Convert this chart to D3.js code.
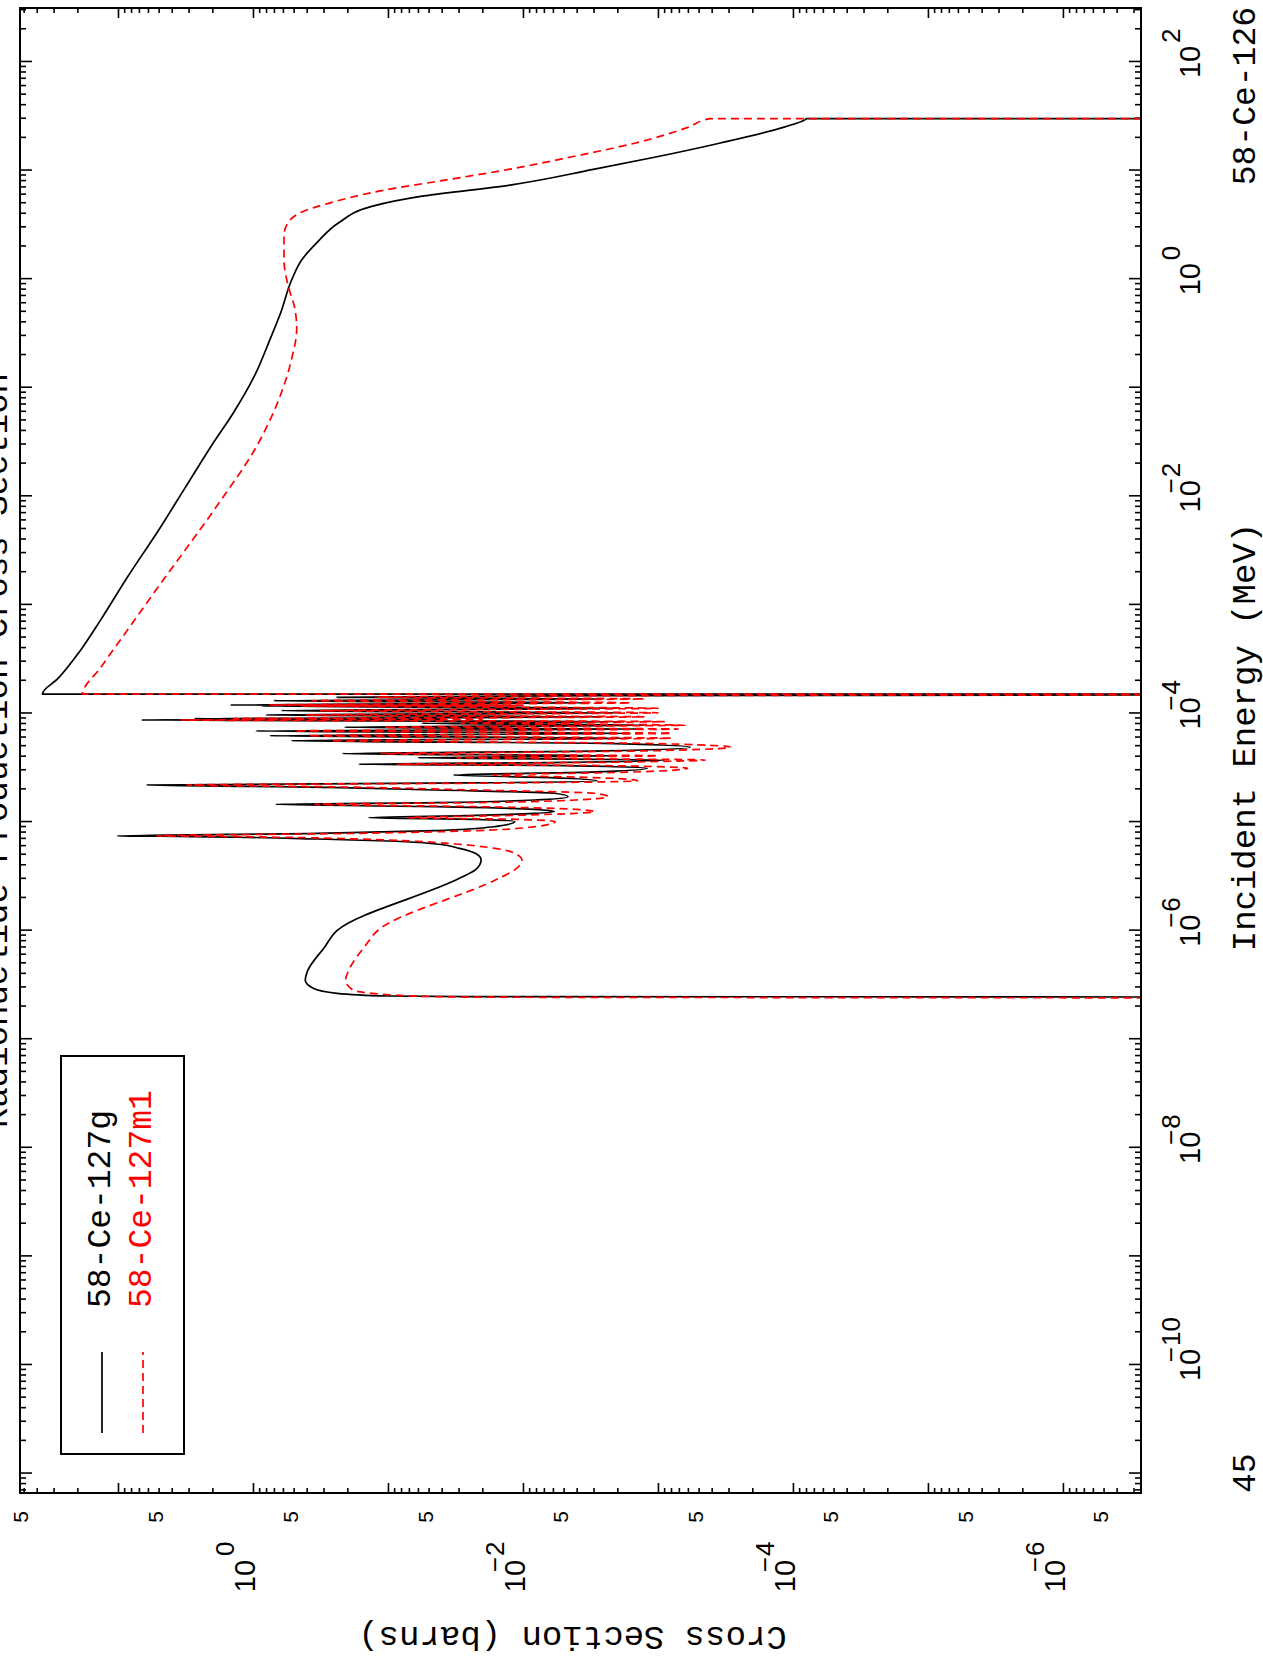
<!DOCTYPE html>
<html><head><meta charset="utf-8">
<script src="https://cdn.jsdelivr.net/npm/d3@7"></script>
<style>body{margin:0;background:#fff}svg{display:block}</style>
</head><body>
<svg id="c" width="1263" height="1662"></svg>
<script>
// ---------------- DATA (log10 E [MeV], log10 sigma [barns]) ----------------
const title = "Radionuclide Production Cross Section";
const xTitle = "Incident Energy (MeV)";
const yTitle = "Cross Section (barns)";
const target = "58-Ce-126";
const cornerNote = "45";
const seriesNames = ["58-Ce-127g", "58-Ce-127m1"];
const seriesColors = ["#000000", "#ff0000"];
const energyDomain = [6.62e-12, 314];
const xsDomain = [53.2, 2.64e-7];
const energyLabelExps = [-10, -8, -6, -4, -2, 0, 2];
const xsLabelExps = [0, -2, -4, -6];
const xsFiveLabels = [5e1, 5e0, 5e-1, 5e-2, 5e-3, 5e-4, 5e-5, 5e-6, 5e-7];

// 58-Ce-127g
const groundLog = [
 [-6.616,-12],[-6.607,-1.6],[-6.602,-1.002],[-6.577,-0.622],[-6.531,-0.446],[-6.455,-0.387],
 [-6.378,-0.402],[-6.148,-0.533],[-6.000,-0.622],[-5.518,-1.529],[-5.441,-1.647],[-5.349,-1.690],
 [-5.288,-1.647],[-5.242,-1.529],[-5.202,-1.353],[-5.177,-1.061],[-5.156,-0.476],[-5.140,0.111],
 [-5.131,0.696],[-5.128,1.004],[-5.104,-0.476],[-5.079,-1.353],[-5.042,-1.793],[-4.996,-1.939],
 [-4.975,-1.645],[-4.960,-0.856],[-4.938,-1.647],[-4.920,-2.085],[-4.904,-2.232],[-4.883,-2.085],
 [-4.858,-1.353],[-4.837,-0.168],[-4.821,-1.353],[-4.797,-2.085],[-4.766,-2.334],[-4.735,-2.232],
 [-4.705,-1.353],[-4.674,-0.182],[-4.659,0.784],
 [-4.640,-1.6],[-4.620,-2.55],[-4.590,-2.2],[-4.567,-1.485],[-4.540,-2.5],[-4.505,-2.92],[-4.480,-2.3],
 [-4.468,-0.783],[-4.450,-2.3],[-4.428,-3.05],[-4.407,-1.222],[-4.390,-2.7],[-4.370,-0.665],
 [-4.345,-2.6],[-4.311,-3.24],[-4.275,-2.6],[-4.251,-0.285],[-4.228,-2.8],[-4.205,-0.124],
 [-4.183,-2.8],[-4.161,-0.021],[-4.144,-2.85],[-4.127,-0.680],[-4.108,-2.9],[-4.090,-1.251],
 [-4.075,-2.75],[-4.060,0.827],[-4.054,-1.4],[-4.048,0.433],[-4.031,-2.6],[-4.014,-0.095],
 [-3.994,-2.7],[-3.974,-0.212],[-3.952,-2.7],[-3.931,-0.065],[-3.927,-1.7],[-3.922,0.169],
 [-3.902,-2.5],[-3.882,-0.153],[-3.866,-2.6],[-3.851,-0.621],[-3.835,-2.6],[-3.822,-12],
 [-3.821,-12],[-3.821,1.560],[-3.675,1.442],[-3.431,1.285],[-3.138,1.128],[-2.748,0.932],
 [-2.308,0.697],[-1.918,0.501],[-1.527,0.304],[-1.235,0.147],[-0.894,-0.010],[-0.552,-0.127],
 [-0.308,-0.206],[-0.015,-0.284],[0.180,-0.363],[0.346,-0.481],[0.522,-0.638],[0.668,-0.873],
 [0.766,-1.265],[0.864,-1.893],[1.010,-2.521],[1.127,-2.993],[1.254,-3.463],[1.400,-3.934],
 [1.469,-4.091],[1.478,-4.10],[1.478,-12]
];

// 58-Ce-127m1
const isomerLog = [
 [-6.623,-12],[-6.612,-1.6],[-6.600,-1.15],[-6.547,-0.739],[-6.455,-0.686],[-6.363,-0.710],
 [-6.148,-0.827],[-5.994,-0.929],[-5.518,-1.822],[-5.441,-1.939],[-5.349,-1.992],[-5.288,-1.939],
 [-5.242,-1.793],[-5.202,-1.500],[-5.177,-1.20],[-5.156,-0.78],[-5.140,-0.19],[-5.131,0.40],
 [-5.128,0.711],[-5.104,-0.78],[-5.079,-1.65],[-5.042,-2.09],[-4.996,-2.24],[-4.975,-1.95],
 [-4.960,-1.148],[-4.938,-1.95],[-4.920,-2.39],[-4.904,-2.53],[-4.883,-2.39],[-4.858,-1.65],
 [-4.837,-0.461],[-4.821,-1.65],[-4.797,-2.39],[-4.766,-2.63],[-4.735,-2.53],[-4.705,-1.65],
 [-4.674,-0.48],[-4.659,0.491],
 [-4.640,-1.9],[-4.620,-2.85],[-4.590,-2.5],[-4.567,-1.78],[-4.540,-2.8],[-4.505,-3.22],[-4.480,-2.6],
 [-4.468,-1.07],[-4.450,-2.6],[-4.428,-3.35],[-4.407,-1.51],[-4.390,-3.0],[-4.370,-0.95],
 [-4.345,-2.9],[-4.311,-3.54],[-4.275,-2.9],[-4.251,-0.58],[-4.228,-3.1],[-4.205,-0.41],
 [-4.183,-3.1],[-4.161,-0.31],[-4.144,-3.15],[-4.127,-0.97],[-4.108,-3.2],[-4.090,-1.54],
 [-4.075,-3.05],[-4.060,0.53],[-4.054,-1.7],[-4.048,0.14],[-4.031,-2.9],[-4.014,-0.39],
 [-3.994,-3.0],[-3.974,-0.50],[-3.952,-3.0],[-3.931,-0.36],[-3.927,-2.0],[-3.922,-0.12],
 [-3.902,-2.8],[-3.882,-0.44],[-3.866,-2.9],[-3.851,-0.91],[-3.835,-2.9],[-3.822,-12],
 [-3.821,-12],[-3.821,1.262],[-3.577,1.128],[-3.236,0.932],[-2.826,0.697],[-2.425,0.461],
 [-2.016,0.226],[-1.576,-0.010],[-1.137,-0.182],[-0.747,-0.284],[-0.454,-0.324],[-0.259,-0.308],
 [-0.064,-0.261],[0.180,-0.230],[0.405,-0.230],[0.522,-0.261],[0.619,-0.363],[0.698,-0.559],
 [0.815,-0.952],[0.912,-1.422],[1.010,-1.893],[1.127,-2.364],[1.254,-2.835],[1.400,-3.227],
 [1.478,-3.384],[1.478,-12]
];

// ---------------- DRAW ----------------
const W = 1263, H = 1662;
const svg = d3.select('#c');
// chart drawn in its own frame (u: energy axis, v: down), then turned 90 deg counter-clockwise
const g = svg.append('g').attr('transform', `translate(0,${H}) rotate(-90)`);
const U0 = 169, U1 = 1654, V0 = 20, V1 = 1141;
const xE = d3.scaleLog().domain(energyDomain).range([U0, U1]);
const yS = d3.scaleLog().domain(xsDomain).range([V0, V1]);

const eMajor = d3.range(-11, 3).map(p => Math.pow(10, p));
const eMinor = [];
d3.range(-12, 3).forEach(p => { for (let k = 2; k <= 9; k++) { const v = k * Math.pow(10, p); if (v > energyDomain[0] && v < energyDomain[1]) eMinor.push(v); } });
const sMajor = d3.range(-6, 2).map(p => Math.pow(10, p));
const sMinor = [];
d3.range(-7, 2).forEach(p => { for (let k = 2; k <= 9; k++) { const v = k * Math.pow(10, p); if (v > xsDomain[1] && v < xsDomain[0]) sMinor.push(v); } });

function styleAxis(sel) {
  sel.select('.domain').remove();
  sel.selectAll('line').attr('stroke', '#000').attr('stroke-width', 1.6);
}
const axes = g.append('g');
axes.append('g').attr('transform', `translate(0,${V1})`).call(d3.axisBottom(xE).tickValues(eMajor).tickSize(-12).tickFormat('')).call(styleAxis);
axes.append('g').attr('transform', `translate(0,${V1})`).call(d3.axisBottom(xE).tickValues(eMinor).tickSize(-6).tickFormat('')).call(styleAxis);
axes.append('g').attr('transform', `translate(0,${V0})`).call(d3.axisTop(xE).tickValues(eMajor).tickSize(-12).tickFormat('')).call(styleAxis);
axes.append('g').attr('transform', `translate(0,${V0})`).call(d3.axisTop(xE).tickValues(eMinor).tickSize(-6).tickFormat('')).call(styleAxis);
axes.append('g').attr('transform', `translate(${U0},0)`).call(d3.axisLeft(yS).tickValues(sMajor).tickSize(-10).tickFormat('')).call(styleAxis);
axes.append('g').attr('transform', `translate(${U0},0)`).call(d3.axisLeft(yS).tickValues(sMinor).tickSize(-5).tickFormat('')).call(styleAxis);
axes.append('g').attr('transform', `translate(${U1},0)`).call(d3.axisRight(yS).tickValues(sMajor).tickSize(-10).tickFormat('')).call(styleAxis);
axes.append('g').attr('transform', `translate(${U1},0)`).call(d3.axisRight(yS).tickValues(sMinor).tickSize(-5).tickFormat('')).call(styleAxis);

// curves
g.append('clipPath').attr('id', 'clip').append('rect')
  .attr('x', U0).attr('y', V0).attr('width', U1 - U0).attr('height', V1 - V0);
const line = d3.line().curve(d3.curveMonotoneX)
  .x(d => xE(Math.pow(10, d[0]))).y(d => yS(Math.pow(10, d[1])));
const plot = g.append('g').attr('clip-path', 'url(#clip)');
plot.append('path').attr('d', line(groundLog)).attr('fill', 'none')
  .attr('stroke', seriesColors[0]).attr('stroke-width', 1.7).attr('stroke-linejoin', 'round');
plot.append('path').attr('d', line(isomerLog)).attr('fill', 'none')
  .attr('stroke', seriesColors[1]).attr('stroke-width', 1.7).attr('stroke-dasharray', '8,5');

// frame
g.append('rect').attr('x', U0).attr('y', V0).attr('width', U1 - U0).attr('height', V1 - V0)
  .attr('fill', 'none').attr('stroke', '#000').attr('stroke-width', 2);

// tick labels
const numFont = "'Liberation Sans', Arial, sans-serif";
const monoFont = "'Liberation Mono', 'Courier New', monospace";
const lab = g.append('g').attr('fill', '#000').attr('font-family', numFont);
energyLabelExps.forEach(p => {
  const u = xE(Math.pow(10, p));
  lab.append('text').attr('x', u).attr('y', 1200).attr('text-anchor', 'middle').attr('font-size', 29).text('10');
  lab.append('text').attr('x', u + 19).attr('y', 1180).attr('text-anchor', 'start').attr('font-size', 26).text(Math.abs(p));
  if (p < 0) lab.append('text').attr('x', u + 18).attr('y', 1180).attr('text-anchor', 'end').attr('font-size', 26).text('\u2212');
});
xsLabelExps.forEach(p => {
  const v = yS(Math.pow(10, p)) + 2;
  lab.append('text').attr('x', 86).attr('y', v).attr('text-anchor', 'middle').attr('font-size', 29).text('10');
  lab.append('text').attr('x', 106).attr('y', v - 21).attr('text-anchor', 'start').attr('font-size', 26).text(Math.abs(p));
  if (p < 0) lab.append('text').attr('x', 105).attr('y', v - 21).attr('text-anchor', 'end').attr('font-size', 26).text('\u2212');
});
xsFiveLabels.forEach(val => {
  lab.append('text').attr('x', 145).attr('y', yS(val) + 4).attr('text-anchor', 'middle').attr('font-size', 21).text('5');
});

// titles
const tt = g.append('g').attr('font-family', monoFont).attr('fill', '#000');
tt.append('text').attr('x', (U0 + U1) / 2).attr('y', 7).attr('text-anchor', 'middle').attr('font-size', 34).text(title);
tt.append('text').attr('x', 925).attr('y', 1255).attr('text-anchor', 'middle').attr('font-size', 34).text(xTitle);
tt.append('text').attr('x', U1 + 1).attr('y', 1255).attr('text-anchor', 'end').attr('font-size', 33).text(target);
tt.append('text').attr('x', U0).attr('y', 1255).attr('text-anchor', 'start').attr('font-size', 33).text(cornerNote);
tt.append('text').attr('transform', `translate(35,${(V0 + V1) / 2 - 8}) rotate(-90)`).attr('text-anchor', 'middle').attr('font-size', 34).text(yTitle);

// legend
const lg = g.append('g');
lg.append('rect').attr('x', 208).attr('y', 61).attr('width', 398).attr('height', 123)
  .attr('fill', '#fff').attr('stroke', '#000').attr('stroke-width', 2);
seriesNames.forEach((name, i) => {
  const v = 102 + i * 41;
  lg.append('line').attr('x1', 229).attr('x2', 310).attr('y1', v).attr('y2', v)
    .attr('stroke', seriesColors[i]).attr('stroke-width', 1.7).attr('stroke-dasharray', i ? '8,5' : null);
  lg.append('text').attr('x', 354).attr('y', v + 8).attr('font-family', monoFont).attr('font-size', 33)
    .attr('fill', seriesColors[i]).text(name);
});
</script>
</body></html>
